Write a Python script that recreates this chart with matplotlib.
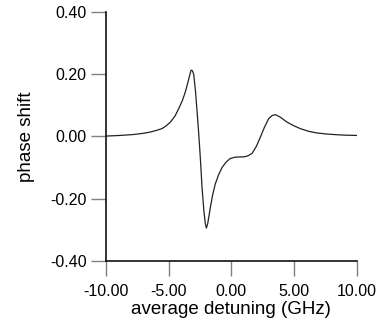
import matplotlib
matplotlib.use("Agg")
import matplotlib.pyplot as plt

# 読み取った曲線の点 (detuning [GHz], phase shift)
detuning = [-10.0, -8.9, -7.8, -7.0, -6.46, -6.0, -5.53, -5.2, -4.86, -4.5,
            -4.2, -3.9, -3.67, -3.45, -3.3, -3.21, -3.12, -3.0, -2.87, -2.74,
            -2.63, -2.53, -2.43, -2.34, -2.2, -2.08, -1.99, -1.88, -1.78, -1.67,
            -1.5, -1.28, -1.0, -0.74, -0.4, -0.08, 0.3, 0.7, 0.98, 1.3,
            1.65, 2.0, 2.31, 2.65, 2.98, 3.25, 3.51, 3.9, 4.44, 5.0,
            5.5, 6.2, 6.83, 7.5, 8.16, 9.0, 10.0]
phase = [0.001, 0.003, 0.006, 0.010, 0.014, 0.019, 0.025, 0.034, 0.046, 0.065,
         0.089, 0.116, 0.143, 0.176, 0.200, 0.213, 0.212, 0.200, 0.150, 0.084,
         0.025, -0.034, -0.098, -0.163, -0.235, -0.280, -0.295, -0.280, -0.255, -0.228,
         -0.190, -0.153, -0.122, -0.100, -0.082, -0.071, -0.067, -0.066, -0.066, -0.063,
         -0.055, -0.032, -0.003, 0.030, 0.057, 0.067, 0.070, 0.062, 0.046, 0.034,
         0.025, 0.016, 0.011, 0.008, 0.006, 0.004, 0.003]

xticks = [-10, -5, 0, 5, 10]
yticks = [-0.4, -0.2, 0.0, 0.2, 0.4]

plt.rcParams['font.family'] = ['Liberation Sans', 'DejaVu Sans']

fig = plt.figure(figsize=(3.79, 3.26), dpi=100)
ax = fig.add_axes([0.2797, 0.2003, 0.6613, 0.7627])

ax.plot(detuning, phase, color="#222222", lw=0.9)

ax.set_xlim(-10, 10)
ax.set_ylim(-0.4, 0.4)
ax.set_xticks(xticks)
ax.set_yticks(yticks)
ax.set_xticklabels([f"{v:.2f}" for v in xticks])
ax.set_yticklabels([f"{v:.2f}" for v in yticks])

for s in ["top", "right"]:
    ax.spines[s].set_visible(False)
for s in ["left", "bottom"]:
    ax.spines[s].set_linewidth(1.2)
    ax.spines[s].set_color("#111111")

ax.tick_params(axis="both", direction="out", length=11, width=1.0,
               color="#808080", labelsize=11.5, pad=3)
ax.tick_params(axis="x", pad=6)

ax.set_xlabel("average detuning (GHz)", fontsize=13.5, labelpad=1)
ax.set_ylabel("phase shift", fontsize=13.5, labelpad=11)

fig.savefig("out.png", dpi=100)
